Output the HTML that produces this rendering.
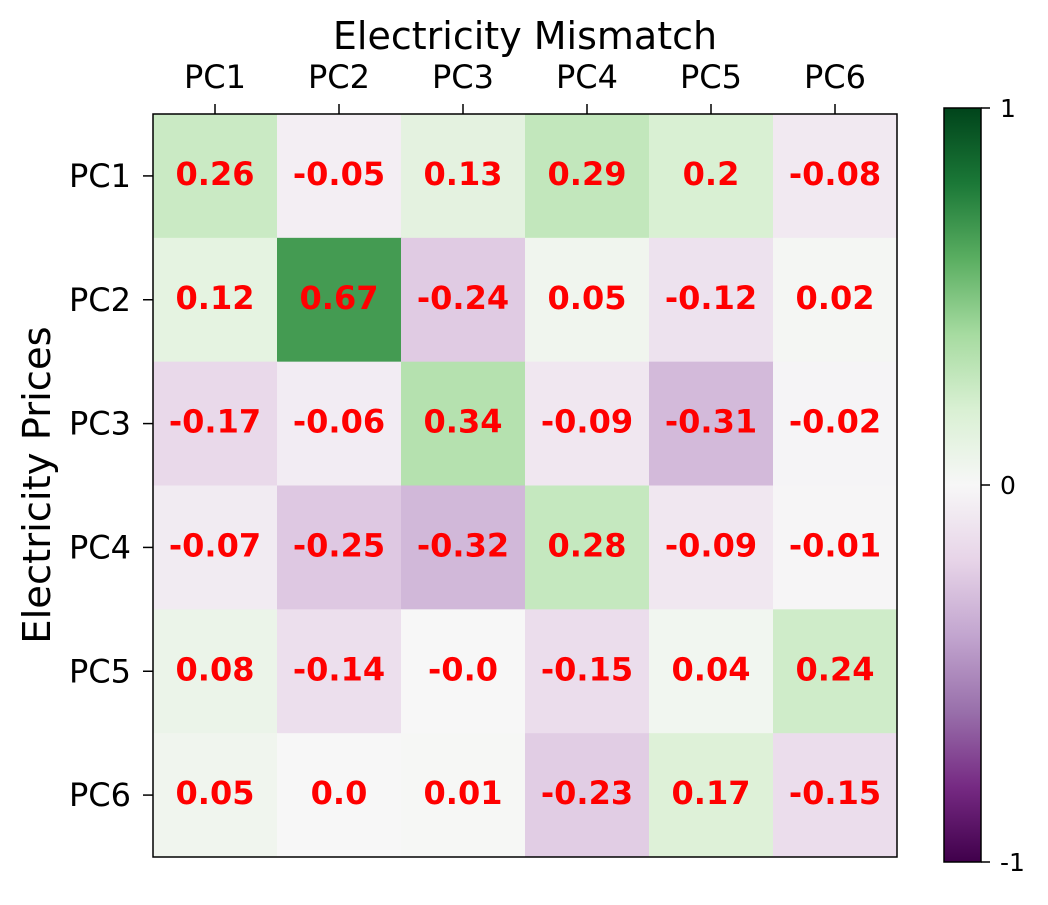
<!DOCTYPE html>
<html><head><meta charset="utf-8"><style>
html,body{margin:0;padding:0;background:#fff;}
svg text{font-family:"DejaVu Sans","Liberation Sans",sans-serif;}
</style></head><body>
<svg id="chart" width="1048" height="900" viewBox="0 0 1048 900" xmlns="http://www.w3.org/2000/svg">
<defs>
<linearGradient id="cbgrad" x1="0" y1="1" x2="0" y2="0">
<stop offset="0" stop-color="#40004b"/><stop offset="0.1" stop-color="#762a83"/><stop offset="0.2" stop-color="#9970ab"/><stop offset="0.3" stop-color="#c2a5cf"/><stop offset="0.4" stop-color="#e7d4e8"/><stop offset="0.5" stop-color="#f7f7f7"/><stop offset="0.6" stop-color="#d9f0d3"/><stop offset="0.7" stop-color="#a6dba0"/><stop offset="0.8" stop-color="#5aae61"/><stop offset="0.9" stop-color="#1b7837"/><stop offset="1" stop-color="#00441b"/>
</linearGradient>
</defs>
<g id="cells"></g>
<rect x="153" y="114" width="744" height="743" fill="none" stroke="#000" stroke-width="1.5"/>
<text x="525" y="49" font-size="38" text-anchor="middle">Electricity Mismatch</text>
<text transform="translate(50,485) rotate(-90)" font-size="38.5" text-anchor="middle">Electricity Prices</text>
<rect x="944" y="108" width="37" height="754" fill="url(#cbgrad)" stroke="#000" stroke-width="1.5"/>
<g id="cbticks"></g>
</svg>
<script>
const rowLabels=["PC1","PC2","PC3","PC4","PC5","PC6"];
const colLabels=["PC1","PC2","PC3","PC4","PC5","PC6"];
const values=[
[0.26,-0.05,0.13,0.29,0.2,-0.08],
[0.12,0.67,-0.24,0.05,-0.12,0.02],
[-0.17,-0.06,0.34,-0.09,-0.31,-0.02],
[-0.07,-0.25,-0.32,0.28,-0.09,-0.01],
[0.08,-0.14,-0.0,-0.15,0.04,0.24],
[0.05,0.0,0.01,-0.23,0.17,-0.15]];
const valueLabels=[
["0.26","-0.05","0.13","0.29","0.2","-0.08"],
["0.12","0.67","-0.24","0.05","-0.12","0.02"],
["-0.17","-0.06","0.34","-0.09","-0.31","-0.02"],
["-0.07","-0.25","-0.32","0.28","-0.09","-0.01"],
["0.08","-0.14","-0.0","-0.15","0.04","0.24"],
["0.05","0.0","0.01","-0.23","0.17","-0.15"]];
const cbTicks=[1,0,-1];
const cbTickLabels=["1","0","-1"];

const NS="http://www.w3.org/2000/svg";
const stops=["#40004b","#762a83","#9970ab","#c2a5cf","#e7d4e8","#f7f7f7","#d9f0d3","#a6dba0","#5aae61","#1b7837","#00441b"];
function hex(h){return [1,3,5].map(i=>parseInt(h.substr(i,2),16));}
function cmap(v){let t=(v+1)/2*10;t=Math.max(0,Math.min(10,t));const i=Math.min(9,Math.floor(t)),f=t-i;
const a=hex(stops[i]),b=hex(stops[i+1]);return "rgb("+a.map((c,k)=>Math.round(c+(b[k]-c)*f)).join(",")+")";}
const X0=153,Y0=114,W=744,H=743;
const cw=W/colLabels.length,ch=H/rowLabels.length;
const xs=j=>X0+j*cw, ys=i=>Y0+i*ch;
const cbY=v=>108+(1-v)/2*754;
function el(tag,attrs,parent,text){const e=document.createElementNS(NS,tag);for(const k in attrs)e.setAttribute(k,attrs[k]);if(text!==undefined)e.textContent=text;parent.appendChild(e);return e;}
const cells=document.getElementById('cells');
const svg=document.getElementById('chart');
values.forEach((row,i)=>row.forEach((v,j)=>{
 const r=el('rect',{x:xs(j),y:ys(i),width:cw+0.5,height:ch+0.5,fill:cmap(v)},cells);
 
 
 const t=el('text',{x:xs(j)+cw/2,y:ys(i)+ch/2+9,'font-size':32,'font-weight':'bold',fill:'#ff0000','text-anchor':'middle'},svg,valueLabels[i][j]);
 
 
}));
colLabels.forEach((c,j)=>{
 const x=xs(j)+cw/2;
 const l=el('line',{x1:x,x2:x,y1:104,y2:114,stroke:'#000','stroke-width':1.5},svg);
 
 
 const t=el('text',{x:x,y:88,'font-size':32,'text-anchor':'middle'},svg,c);
 
 
});
rowLabels.forEach((c,i)=>{
 const y=ys(i)+ch/2;
 const l=el('line',{x1:143,x2:153,y1:y,y2:y,stroke:'#000','stroke-width':1.5},svg);
 
 
 const t=el('text',{x:131,y:y+11,'font-size':32,'text-anchor':'end'},svg,c);
 
 
});
const cbg=document.getElementById('cbticks');
cbTicks.forEach((v,k)=>{
 const y=cbY(v);
 const l=el('line',{x1:981,x2:990,y1:y,y2:y,stroke:'#000','stroke-width':1.5},cbg);
 
 
 const t=el('text',{x:1000,y:y+9,'font-size':25},cbg,cbTickLabels[k]);
 
 
});
</script>
</body></html>
